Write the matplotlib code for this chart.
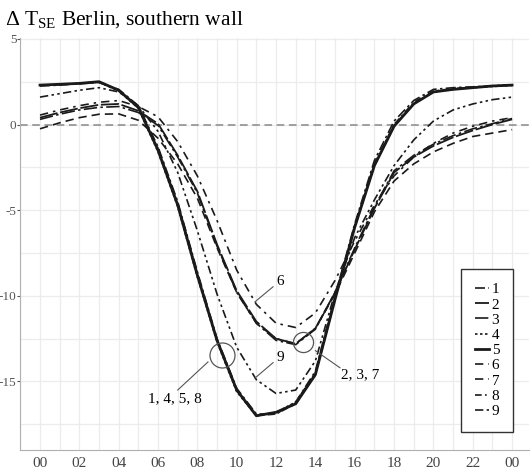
import numpy as np
import matplotlib.pyplot as plt
from matplotlib.ticker import MultipleLocator

plt.rcParams['font.family'] = ['Liberation Serif', 'DejaVu Serif']
plt.rcParams['mathtext.fontset'] = 'custom'
plt.rcParams['mathtext.rm'] = 'Liberation Serif'
plt.rcParams['axes.unicode_minus'] = False

# hourly surface temperature difference, southern wall
hours = list(range(25))

t1 = [2.25, 2.3, 2.38, 2.45, 2.05, 1.1, -1.3, -4.5, -8.6, -12.5, -15.4, -16.9, -16.9,
      -16.2, -14.4, -10.0, -5.8, -2.1, 0.2, 1.4, 2.05, 2.15, 2.2, 2.25, 2.3]
t2 = [0.4, 0.7, 0.95, 1.15, 1.2, 0.8, 0.05, -1.8, -3.9, -7.0, -9.7, -11.5, -12.5,
      -12.8, -11.9, -9.8, -7.3, -4.9, -2.8, -1.9, -1.25, -0.75, -0.35, 0.0, 0.3]
t3 = [0.3, 0.6, 0.85, 1.0, 1.05, 0.7, -0.05, -1.9, -4.0, -7.1, -9.8, -11.6, -12.6,
      -12.85, -11.95, -9.8, -7.2, -4.8, -2.7, -1.8, -1.15, -0.65, -0.25, 0.05, 0.35]
t4 = [2.3, 2.33, 2.4, 2.48, 1.95, 0.95, -1.6, -4.8, -8.9, -12.7, -15.6, -17.0, -16.8,
      -16.2, -14.5, -10.1, -6.0, -2.4, -0.1, 1.2, 1.9, 2.05, 2.15, 2.22, 2.28]
t5 = [2.3, 2.35, 2.4, 2.5, 2.0, 1.0, -1.5, -4.7, -8.8, -12.6, -15.5, -17.0, -16.8,
      -16.3, -14.6, -10.2, -6.0, -2.4, -0.1, 1.2, 1.9, 2.05, 2.15, 2.25, 2.3]
t6 = [0.55, 0.85, 1.1, 1.3, 1.4, 1.05, 0.45, -1.0, -3.0, -5.6, -8.5, -10.5, -11.6,
      -11.85, -11.0, -9.1, -6.8, -4.7, -3.0, -1.9, -1.1, -0.5, -0.1, 0.2, 0.4]
t7 = [-0.25, 0.1, 0.4, 0.6, 0.62, 0.25, -0.8, -2.3, -4.3, -7.2, -9.8, -11.6, -12.5,
      -12.8, -11.9, -9.9, -7.5, -5.1, -3.3, -2.3, -1.6, -1.1, -0.7, -0.5, -0.3]
t8 = [2.28, 2.32, 2.4, 2.47, 2.0, 1.0, -1.4, -4.6, -8.7, -12.6, -15.5, -17.0, -16.9,
      -16.3, -14.6, -10.2, -5.9, -2.3, 0.0, 1.3, 1.95, 2.1, 2.18, 2.25, 2.32]
t9 = [1.6, 1.8, 2.0, 2.15, 1.9, 1.1, -0.4, -2.8, -6.2, -9.9, -13.0, -14.9, -15.7,
      -15.5, -13.8, -9.8, -6.6, -4.4, -2.4, -0.9, 0.2, 0.85, 1.2, 1.45, 1.6]

series = [t1, t2, t3, t4, t5, t6, t7, t8, t9]
names = ['1', '2', '3', '4', '5', '6', '7', '8', '9']
styles = [(0, (6, 2, 1.5, 2)), (0, (10, 1.5)), (0, (8, 2, 1.5, 2)), (0, (1.5, 1.5)),
          '-', (0, (5, 3, 1.5, 3)), (0, (5, 3)), (0, (4, 2, 1, 2)),
          (0, (5, 2, 1.5, 2, 1.5, 2))]
widths = [1.2, 1.3, 1.2, 1.2, 2.0, 1.2, 1.2, 1.2, 1.2]

xtick_pos = list(range(0, 25, 2))
xtick_lab = ['00', '02', '04', '06', '08', '10', '12', '14', '16', '18', '20', '22', '00']
ytick_pos = [5, 0, -5, -10, -15]

fig = plt.figure(figsize=(5.30, 4.69), dpi=100)
ax = fig.add_axes([20/530, 19/469, 509/530, 412/469])

for y, name, ls, lw in zip(series, names, styles, widths):
    ax.plot(hours, y, color='#1a1a1a', linestyle=ls, linewidth=lw, label=name)

ax.axhline(0, color='#888888', linestyle=(0, (5, 3)), linewidth=1.1, zorder=1)

ax.set_xlim(-1.017, 24.86)
ax.set_ylim(-19.0, 5.05)
ax.set_xticks(xtick_pos)
ax.set_xticklabels(xtick_lab)
ax.set_yticks(ytick_pos)
ax.xaxis.set_minor_locator(MultipleLocator(1))
ax.yaxis.set_minor_locator(MultipleLocator(2.5))
ax.grid(True, which='both', color='#ececec', linewidth=0.9)
ax.set_axisbelow(True)
ax.tick_params(axis='x', which='both', length=0, labelsize=11, colors='#444444', pad=5)
ax.tick_params(axis='y', which='major', length=2, labelsize=9.5, colors='#555555',
               width=0.8, pad=0.5)
ax.tick_params(axis='y', which='minor', length=0)
for side in ['left', 'bottom']:
    ax.spines[side].set_color('#b0b0b0')
for side in ['top', 'right']:
    ax.spines[side].set_visible(False)

# callouts for groups of nearly identical curves
ax.plot([9.25], [-13.45], marker='o', markersize=18, markerfacecolor='none',
        markeredgecolor='#555555', markeredgewidth=0.9)
ax.plot([8.54, 7.0], [-13.86, -15.5], color='#555555', linewidth=0.8)
ax.text(6.86, -16.0, '1, 4, 5, 8', fontsize=11, ha='center', va='center')

ax.plot([13.37], [-12.7], marker='o', markersize=14.5, markerfacecolor='none',
        markeredgecolor='#555555', markeredgewidth=0.9)
ax.plot([14.0, 15.25], [-13.2, -14.2], color='#555555', linewidth=0.8)
ax.text(16.3, -14.6, '2, 3, 7', fontsize=11, ha='center', va='center')

ax.plot([11.85, 10.93], [-9.47, -10.35], color='#555555', linewidth=0.8)
ax.text(12.2, -9.15, '6', fontsize=11, ha='center', va='center')
ax.plot([11.85, 10.93], [-13.9, -14.8], color='#555555', linewidth=0.8)
ax.text(12.2, -13.6, '9', fontsize=11, ha='center', va='center')

leg = ax.legend(loc='lower right', bbox_to_anchor=(493/509, 0.044), borderaxespad=0,
                fontsize=11, handlelength=0.9, handletextpad=0.2, labelspacing=0.1,
                borderpad=0.9, fancybox=False, framealpha=1)
leg.get_frame().set_edgecolor('#333333')
leg.get_frame().set_linewidth(1.0)

fig.text(0.01, 0.945, r'Δ T$_{\rm SE}$ Berlin, southern wall', fontsize=15.5,
         ha='left', va='baseline')

fig.savefig('out.png', dpi=100)
